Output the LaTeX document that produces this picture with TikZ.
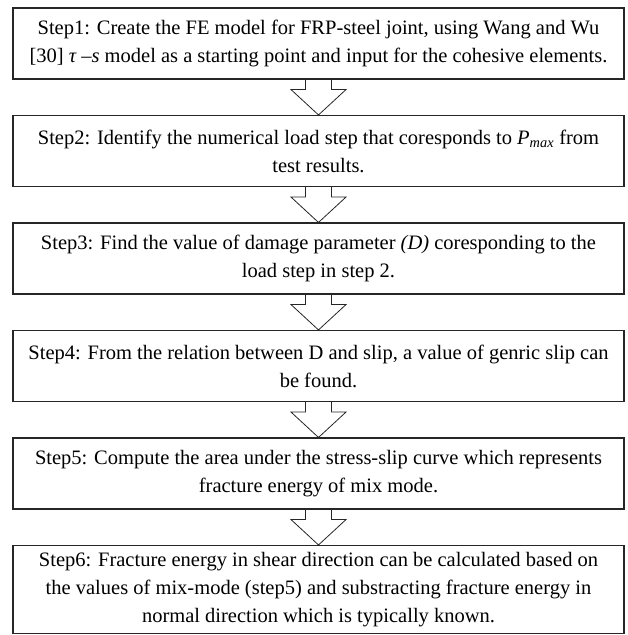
\documentclass[tikz,border=0pt]{standalone}
\usepackage{fontspec}
\setmainfont{Liberation Serif}
\begin{document}
\begin{tikzpicture}[x=1pt,y=1pt,
  stepbox/.style={draw=black!85, line width=1.1pt, minimum width=611pt, minimum height=71pt,
    inner sep=0pt, align=center, font=\fontsize{20.5}{28}\selectfont},
  flowarrow/.style={draw=black!85, line width=0.8pt, line join=miter}]
\useasboundingbox (0,0) rectangle (627,-635);
\node[stepbox] (s1) at (318.5,-43.5) {Step1: Create the FE model for FRP-steel joint, using Wang and Wu\\{[30]} {\itshape τ} –{\itshape s} model as a starting point and input for the cohesive elements.};
\node[stepbox] (s2) at (318.5,-151) {Step2: Identify the numerical load step that coresponds to {\itshape P\textsubscript{max}} from\\test results.};
\node[stepbox] (s3) at (318.5,-258.5) {Step3: Find the value of damage parameter {\itshape (D)} coresponding to the\\load step in step 2.};
\node[stepbox] (s4) at (318.5,-366) {Step4: From the relation between D and slip, a value of genric slip can\\be found.};
\node[stepbox] (s5) at (318.5,-473.5) {Step5: Compute the area under the stress-slip curve which represents\\fracture energy of mix mode.};
\node[stepbox, minimum height=88pt] (s6) at (318.5,-589.5) {Step6: Fracture energy in shear direction can be calculated based on\\the values of mix-mode (step5) and substracting fracture energy in\\normal direction which is typically known.};
\foreach \a/\b in {s1/s2,s2/s3,s3/s4,s4/s5,s5/s6}{
  \draw[flowarrow] ([xshift=-13pt]\a.south) -- ++(0,-10) -- ++(-14.5,0) -- (\b.north)
    -- ([xshift=27.5pt,yshift=-10pt]\a.south) -- ++(-14.5,0) -- ([xshift=13pt]\a.south);
}
\end{tikzpicture}
\end{document}
